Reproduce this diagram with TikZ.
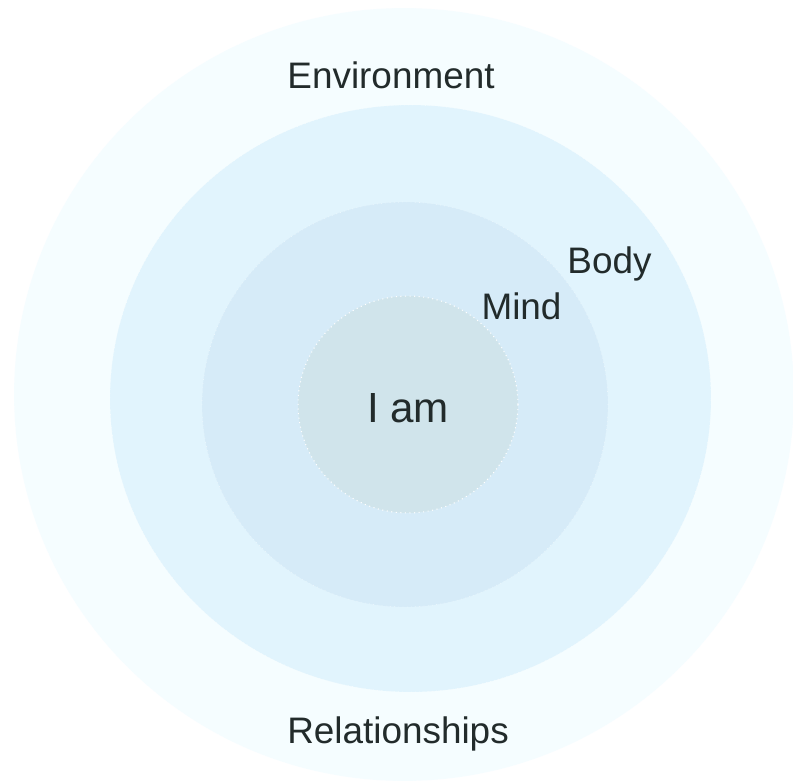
\documentclass[tikz,border=0pt]{standalone}
\usepackage{fontspec}
\setmainfont{Liberation Sans}
\usetikzlibrary{shapes.geometric}

\definecolor{outerring}{HTML}{F5FDFF}
\definecolor{bodyring}{HTML}{E1F4FD}
\definecolor{mindring}{HTML}{D6EBF8}
\definecolor{selfring}{HTML}{D0E4EB}
\definecolor{labeltext}{HTML}{222B2B}

\tikzset{
  ring/.style={ellipse, inner sep=0pt, draw=white, draw opacity=0.5, dotted, line width=0.4pt},
  ringlabel/.style={anchor=base, inner sep=0pt, text=labeltext, font=\fontsize{21}{25}\selectfont}
}

\begin{document}
\begin{tikzpicture}[x=0.02cm, y=-0.02cm]
  \fill[white] (0,0) rectangle (793,783);
  \useasboundingbox (0,0) rectangle (793,783);

  % nested rings, from the outside in
  \node[ring, fill=outerring, minimum width=15.6cm, minimum height=15.46cm] (relations) at (404,394.5) {};
  \node[ring, fill=bodyring, minimum width=12.02cm, minimum height=11.74cm] (body) at (410.5,398.5) {};
  \node[ring, fill=mindring, minimum width=8.12cm, minimum height=8.1cm] (mind) at (405,404.5) {};
  \node[ring, fill=selfring, draw opacity=1, line width=0.6pt, minimum width=4.4cm, minimum height=4.34cm] (self) at (408,404.5) {};

  % labels
  \node[ringlabel] (envlabel) at (391,89) {Environment};
  \node[ringlabel] (rellabel) at (398,743) {Relationships};
  \node[ringlabel] (bodylabel) at (609.5,274) {Body};
  \node[ringlabel] (mindlabel) at (521.5,319) {Mind};
  \node[ringlabel, font=\fontsize{24}{29}\selectfont] (selflabel) at (408,422) {I am};
\end{tikzpicture}
\end{document}
